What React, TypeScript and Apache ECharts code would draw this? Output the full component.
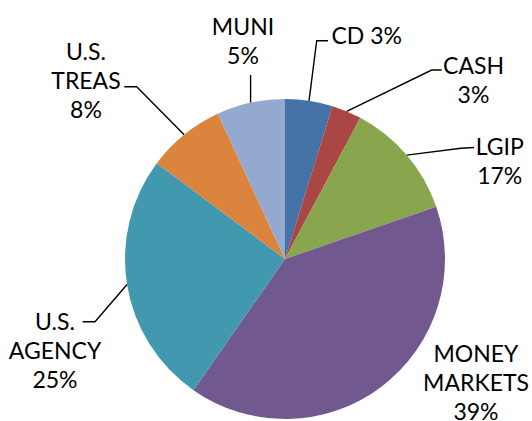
import React, { useEffect, useRef } from "react";
import * as echarts from "echarts";

// Categories in clockwise order starting at 12 o'clock
const categories = ["CD", "CASH", "LGIP", "MONEY MARKETS", "U.S. AGENCY", "U.S. TREAS", "MUNI"];
// Slice shares as drawn in the picture
const sliceValues = [4.8, 3.0, 11.9, 40.0, 25.5, 7.9, 6.9];
// Percentages printed in the labels
const labelPercents = [3, 3, 17, 39, 25, 8, 5];
const colors = ["#4572A7", "#AA4643", "#89A54E", "#71588F", "#4198AF", "#DB843D", "#93A9CF"];

// Label layout (positions only)
const labelPos: { x: number; y: number }[] = [
  { x: 366.7, y: 20.2 },
  { x: 473.5, y: 50.2 },
  { x: 499.7, y: 131.9 },
  { x: 476, y: 338.5 },
  { x: 55, y: 306.9 },
  { x: 86, y: 36.9 },
  { x: 243, y: 11.9 },
];
// Leader line elbow and end points (null x = use anchor x)
const leaderPts: (number[][] | null)[] = [
  [[316.7, 40.7], [328, 40.7]],
  [[431.7, 70], [441.7, 70]],
  [[461, 148.3], [474, 147.5]],
  null,
  [[95, 321.7], [82.7, 321.7]],
  [[136.7, 86.7], [124.3, 86.7]],
  [[NaN, 75], [NaN, 75]],
];

function labelText(i: number): string {
  const name = categories[i];
  if (name === "CD") return `${name} ${labelPercents[i]}%`;
  return `${name.replace(" ", "\n")}\n${labelPercents[i]}%`;
}

export default function App() {
  const ref = useRef<HTMLDivElement>(null);
  useEffect(() => {
    if (!ref.current) return;
    const chart = echarts.init(ref.current, undefined, { renderer: "svg" });
    const data = categories.map((name, i) => ({
      name,
      value: sliceValues[i],
      itemStyle: { color: colors[i] },
      labelLine: { show: leaderPts[i] !== null },
    }));
    chart.setOption({
      animation: false,
      backgroundColor: "#ffffff",
      series: [
        {
          type: "pie",
          center: [285, 259],
          radius: [0, 160],
          startAngle: 90,
          clockwise: true,
          avoidLabelOverlap: false,
          data,
          itemStyle: { borderWidth: 0 },
          label: {
            show: true,
            position: "outside",
            formatter: (p: any) => labelText(p.dataIndex),
            fontFamily: "Lato",
            fontSize: 23,
            lineHeight: 29,
            color: "#000000",
            align: "center",
          },
          labelLine: {
            show: true,
            lineStyle: { color: "#000000", width: 1.4 },
          },
          labelLayout: (params: any) => {
            const i = params.dataIndex;
            const pos = labelPos[i];
            const res: any = { x: pos.x, y: pos.y, align: "center", verticalAlign: "top" };
            const lp = leaderPts[i];
            const pts = params.labelLinePoints;
            if (lp && pts && pts.length) {
              const a = pts[0];
              const p1 = [isNaN(lp[0][0]) ? a[0] : lp[0][0], lp[0][1]];
              const p2 = [isNaN(lp[1][0]) ? a[0] : lp[1][0], lp[1][1]];
              res.labelLinePoints = [a, p1, p2];
            }
            return res;
          },
        },
      ],
    });
    return () => chart.dispose();
  }, []);
  return (
    <div
      ref={ref}
      style={{ position: "fixed", left: 0, top: 0, width: 532, height: 421 }}
    />
  );
}
